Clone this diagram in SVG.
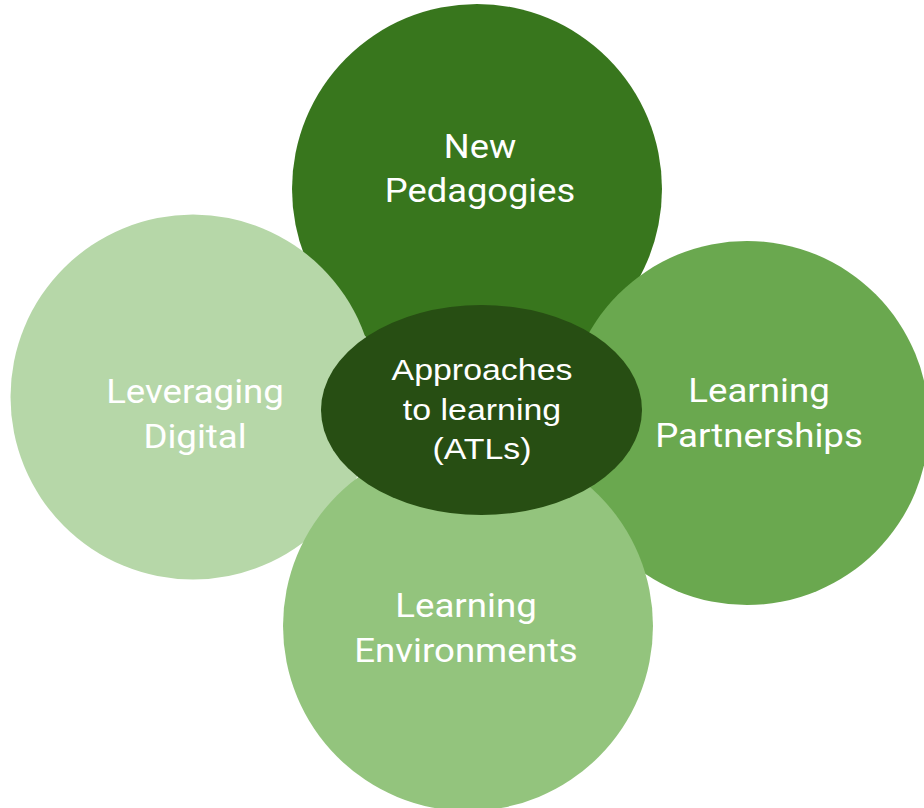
<svg xmlns="http://www.w3.org/2000/svg" width="924" height="808" viewBox="0 0 924 808">
<style>
.lbl{font-family:Roboto,"Liberation Sans",sans-serif;font-size:33px;fill:#ffffff;text-anchor:middle}
.ctr{font-family:"Liberation Sans",Arial,sans-serif;font-size:30px;fill:#ffffff;text-anchor:middle}
</style>
<rect width="924" height="808" fill="#ffffff"/>
<g id="new-pedagogies">
<circle cx="477" cy="189" r="185" fill="#38761d"/>
<g transform="translate(480,0) scale(1.1,1)">
<text class="lbl" x="0" y="158">New</text>
<text class="lbl" x="0" y="202">Pedagogies</text>
</g>
</g>
<g id="learning-partnerships">
<circle cx="747" cy="423" r="182" fill="#6aa84f"/>
<g transform="translate(759,0) scale(1.11,1)">
<text class="lbl" x="0" y="402">Learning</text>
<text class="lbl" x="0" y="447">Partnerships</text>
</g>
</g>
<g id="leveraging-digital">
<circle cx="193" cy="397" r="182.5" fill="#b6d7a8"/>
<g transform="translate(195,0) scale(1.11,1)">
<text class="lbl" x="0" y="403">Leveraging</text>
<text class="lbl" x="0" y="448">Digital</text>
</g>
</g>
<g id="learning-environments">
<circle cx="468" cy="626" r="185" fill="#93c47d"/>
<g transform="translate(466,0) scale(1.11,1)">
<text class="lbl" x="0" y="617">Learning</text>
<text class="lbl" x="0" y="662">Environments</text>
</g>
</g>
<g id="atls">
<ellipse cx="481.5" cy="410" rx="160.5" ry="105" fill="#274e13"/>
<g transform="translate(482,0) scale(1.13,1)">
<text class="ctr" x="0" y="380">Approaches</text>
<text class="ctr" x="0" y="420">to learning</text>
<text class="ctr" x="0" y="459">(ATLs)</text>
</g>
</g>
<g id="connectors"></g>
</svg>
